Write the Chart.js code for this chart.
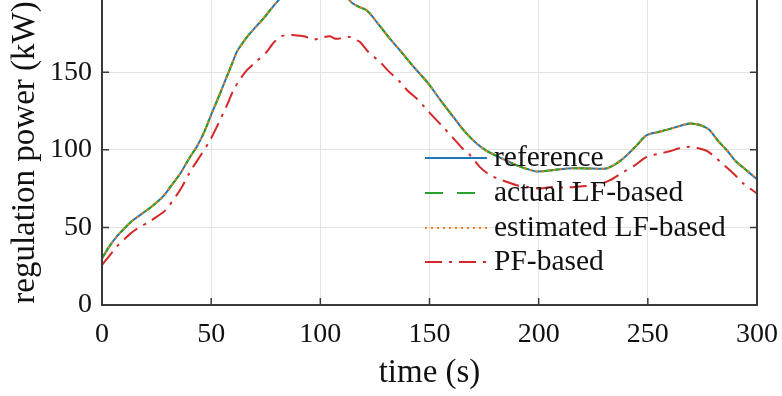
<!DOCTYPE html>
<html>
<head>
<meta charset="utf-8">
<script src="https://cdn.jsdelivr.net/npm/chart.js@4.4.1/dist/chart.umd.min.js"></script>
<style>
  html, body { margin: 0; padding: 0; background: #fff; }
  #wrap { width: 782px; height: 396px; }
</style>
</head>
<body>
<div id="wrap"><canvas id="chart" width="782" height="396"></canvas></div>
<script>
// time axis samples (s) and power (kW)
const refTime = [0, 3, 6.7, 10, 14.3, 19, 23.5, 28, 31.9, 36, 40.3, 43.4, 47, 50.2, 54, 57.1, 60, 61.7, 64, 67, 70, 73.9, 77, 80.8, 85, 90, 95, 100, 105, 110, 113.6, 117, 121.3, 126, 131, 136.5, 143, 149.5, 155, 161, 166, 171.6, 176, 182.3, 190, 197.6, 200, 206, 213, 222, 231, 235.7, 240, 245, 249.5, 255, 259, 265, 269.3, 273.9, 278, 282, 286.2, 290, 295, 300];
const refPower = [30, 37, 44, 49, 54.7, 59.5, 64.3, 70, 77.2, 85, 95.4, 101.9, 112, 123.3, 136, 146.9, 157, 163, 168, 173.7, 178.5, 184.5, 190, 196.3, 203, 208, 211, 212, 210, 204, 196, 192.5, 189.8, 182, 173, 164, 153, 142.7, 132, 121, 112, 104, 99.5, 95, 90, 86.4, 86, 86.8, 88, 88, 88, 91.2, 96, 103, 109.4, 111.5, 113, 115.5, 117, 116, 113, 106, 99.7, 93, 87, 81];
// actual / estimated LF-based overlap the reference in the figure
const actualLF = refPower.slice();
const estimatedLF = refPower.slice();

const pfTime = [0, 3, 6.7, 10, 13, 17.4, 21, 25, 29, 34.2, 37, 40.3, 45, 49.5, 53, 57, 60.2, 63, 66.3, 70, 75.4, 78, 81.5, 85, 89.2, 93, 96.8, 100, 104.4, 107, 110, 113.6, 116, 118.2, 122, 127.3, 131, 136.5, 140, 144.1, 148, 151.8, 156, 161, 165, 168.6, 173, 177.7, 183, 189.9, 195, 200.6, 206, 212.9, 220, 226, 232.7, 238, 244, 249.5, 255.6, 260, 264.8, 269.3, 273, 277, 281, 285, 289.2, 294, 300];
const pfPower = [25.7, 31, 37.5, 42, 46, 50.4, 53, 56.8, 61, 70.8, 77, 85.8, 96, 106.2, 116, 128, 138.4, 145, 151.2, 156, 163, 168, 172.7, 174, 173.7, 173, 171, 172, 173.1, 171.5, 172, 172.7, 171, 169.4, 163, 156.6, 151, 143.7, 138, 133, 127, 121.2, 115, 107.3, 101, 96.5, 89, 83.7, 80.5, 77.2, 76, 75.1, 76, 75.7, 76.5, 77, 80.4, 85, 90, 95.4, 97.6, 99, 101.2, 101.9, 101, 99.3, 95, 90, 84.7, 78, 71.9];

const xTicks = [0, 50, 100, 150, 200, 250, 300];
const yTicks = [0, 50, 100, 150];
const seriesNames = ['reference', 'actual LF-based', 'estimated LF-based', 'PF-based'];

const FONT = "'Liberation Serif', 'Times New Roman', serif";
const axisColor = '#3a3a3a';

function pts(xs, ys) {
  return xs.map((x, i) => ({ x: x, y: ys[i] }));
}

// MATLAB-like box, inward ticks and a frameless legend
const boxPlugin = {
  id: 'box',
  afterDraw(chart) {
    const ctx = chart.ctx;
    const a = chart.chartArea;
    const xs = chart.scales.x, ys = chart.scales.y;
    ctx.save();
    ctx.strokeStyle = axisColor;
    ctx.lineWidth = 2;
    ctx.beginPath();
    ctx.moveTo(a.left, a.top); ctx.lineTo(a.left, a.bottom);
    ctx.lineTo(a.right, a.bottom); ctx.lineTo(a.right, a.top);
    ctx.stroke();
    ctx.lineWidth = 1.5;
    ctx.beginPath();
    xTicks.forEach(v => {
      const px = xs.getPixelForValue(v);
      ctx.moveTo(px, a.bottom); ctx.lineTo(px, a.bottom - 7);
    });
    yTicks.forEach(v => {
      const py = ys.getPixelForValue(v);
      ctx.moveTo(a.left, py); ctx.lineTo(a.left + 7, py);
      ctx.moveTo(a.right, py); ctx.lineTo(a.right - 7, py);
    });
    ctx.stroke();

    // legend
    const lx0 = a.left + 323, lx1 = a.left + 385, tx = a.left + 392;
    const rowY = [158, 193, 228, 262];
    ctx.font = '29.5px ' + FONT;
    ctx.textBaseline = 'middle';
    ctx.textAlign = 'left';
    chart.data.datasets.forEach((ds, i) => {
      const y = rowY[i];
      ctx.strokeStyle = ds.borderColor;
      ctx.lineWidth = ds.borderWidth;
      ctx.setLineDash(ds.borderDash || []);
      ctx.beginPath();
      ctx.moveTo(lx0, y); ctx.lineTo(lx1, y);
      ctx.stroke();
      ctx.setLineDash([]);
      ctx.fillStyle = '#111';
      ctx.fillText(ds.label, tx, y);
    });
    ctx.restore();
  }
};

function noEdgePad(s) {
  s.paddingTop = 0; s.paddingBottom = 0;
  s.paddingLeft = 0; s.paddingRight = 0;
}

new Chart(document.getElementById('chart'), {
  type: 'line',
  data: {
    datasets: [
      { label: seriesNames[0], data: pts(refTime, refPower), borderColor: '#1f77b4', borderWidth: 2, order: 4 },
      { label: seriesNames[1], data: pts(refTime, actualLF), borderColor: '#2ca02c', borderWidth: 2, borderDash: [18, 14], order: 3 },
      { label: seriesNames[2], data: pts(refTime, estimatedLF), borderColor: '#ff7f0e', borderWidth: 2, borderDash: [2, 4], order: 2 },
      { label: seriesNames[3], data: pts(pfTime, pfPower), borderColor: '#d62728', borderWidth: 2, borderDash: [17, 7, 3, 7], order: 1 }
    ]
  },
  options: {
    responsive: false,
    animation: false,
    events: [],
    layout: { padding: { top: 0, right: 25, left: 0, bottom: 0 } },
    elements: {
      point: { radius: 0 },
      line: { tension: 0.3, fill: false }
    },
    plugins: {
      legend: { display: false },
      tooltip: { enabled: false }
    },
    scales: {
      x: {
        type: 'linear',
        min: 0,
        max: 300,
        afterFit: s => { s.height = 91; noEdgePad(s); },
        afterBuildTicks: s => { s.ticks = xTicks.map(v => ({ value: v })); },
        grid: { color: '#e3e3e3', lineWidth: 1, drawTicks: false },
        border: { display: false },
        ticks: { color: '#111', font: { family: FONT, size: 28 }, padding: 13, maxRotation: 0 },
        title: { display: true, text: 'time (s)', color: '#111', font: { family: FONT, size: 33 }, padding: { top: 0, bottom: 3 } }
      },
      y: {
        type: 'linear',
        min: 0,
        max: 196.5,
        afterFit: s => { s.width = 102; noEdgePad(s); },
        afterBuildTicks: s => { s.ticks = yTicks.map(v => ({ value: v })); },
        grid: { color: '#e3e3e3', lineWidth: 1, drawTicks: false },
        border: { display: false },
        ticks: { color: '#111', font: { family: FONT, size: 28 }, padding: 10 },
        title: { display: true, text: 'regulation power (kW)', color: '#111', font: { family: FONT, size: 33 }, padding: { top: 6, bottom: 0 } }
      }
    }
  },
  plugins: [boxPlugin]
});
</script>
</body>
</html>
